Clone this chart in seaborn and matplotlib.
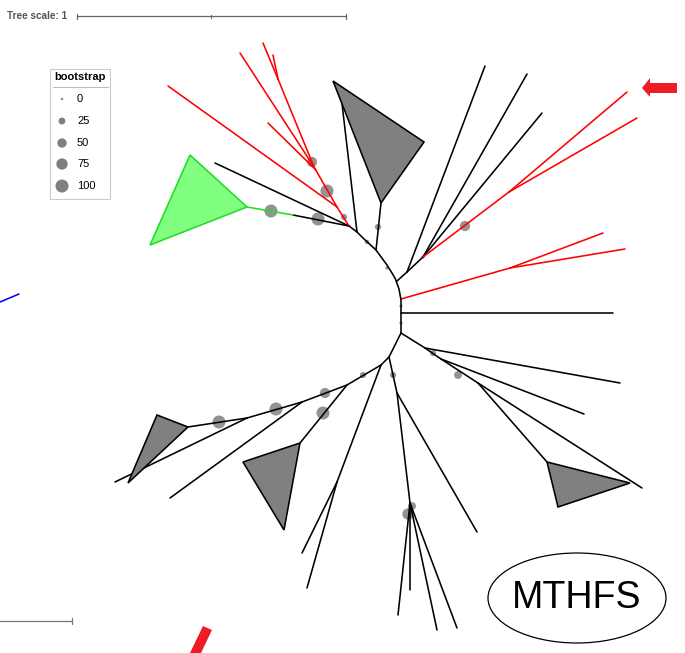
import numpy as np
import pandas as pd
import seaborn as sns
import matplotlib.pyplot as plt
from matplotlib.collections import LineCollection
from matplotlib.patches import Polygon, Ellipse

# node positions (pixel space of the reference)
arc_x = [349, 357, 363, 376, 387, 395, 399, 401, 401]
arc_y = [226, 232, 238, 250, 265, 278, 289, 300, 333]

# branches: x0, y0, x1, y1, colour
branches = [
    # upper left clade
    (215, 163, 349, 226, 'black'),
    (293, 215, 349, 226, 'black'),
    (247, 207, 293, 215, '#22dd22'),
    (168, 86, 337, 207, 'red'),
    (240, 53, 314, 167, 'red'),
    (268, 123, 316, 170, 'red'),
    (263, 43, 278, 79, 'red'),
    (273, 55, 278, 79, 'red'),
    (278, 79, 314, 167, 'red'),
    (314, 167, 337, 207, 'red'),
    (337, 207, 349, 226, 'red'),
    (341, 95, 357, 232, 'black'),
    (381, 203, 376, 250, 'black'),
    # upper right clade
    (397, 281, 407, 272, 'black'),
    (407, 272, 485, 66, 'black'),
    (407, 272, 423, 257, 'black'),
    (423, 257, 527, 74, 'black'),
    (423, 257, 542, 113, 'black'),
    (423, 257, 509, 192, 'red'),
    (509, 192, 627, 92, 'red'),
    (509, 192, 637, 118, 'red'),
    (401, 299, 510, 268, 'red'),
    (510, 268, 603, 233, 'red'),
    (510, 268, 625, 249, 'red'),
    (401, 313, 613, 313, 'black'),
    # right clade
    (401, 333, 425, 348, 'black'),
    (425, 348, 620, 383, 'black'),
    (425, 348, 441, 359, 'black'),
    (441, 359, 584, 414, 'black'),
    (441, 359, 478, 383, 'black'),
    (478, 383, 642, 488, 'black'),
    (478, 383, 547, 462, 'black'),
    # lower clade
    (401, 333, 389, 357, 'black'),
    (389, 357, 381, 365, 'black'),
    (381, 365, 337, 482, 'black'),
    (337, 482, 302, 553, 'black'),
    (337, 482, 307, 588, 'black'),
    (381, 365, 347, 385, 'black'),
    (347, 385, 302, 402, 'black'),
    (302, 402, 247, 418, 'black'),
    (247, 418, 188, 427, 'black'),
    (347, 385, 300, 443, 'black'),
    (302, 402, 170, 498, 'black'),
    (247, 418, 115, 482, 'black'),
    (389, 357, 397, 393, 'black'),
    (397, 393, 410, 503, 'black'),
    (397, 393, 477, 532, 'black'),
    (410, 503, 398, 615, 'black'),
    (410, 503, 410, 590, 'black'),
    (410, 503, 437, 630, 'black'),
    (410, 503, 457, 628, 'black'),
    # stray branch at the left edge
    (0, 302, 19, 294, 'blue'),
]

# collapsed clades
triangles = [
    ([333, 424, 381], [81, 142, 203], '#808080', 'black'),
    ([190, 247, 150], [155, 207, 245], '#80ff80', '#22dd22'),
    ([300, 243, 284], [443, 462, 530], '#808080', 'black'),
    ([188, 157, 128], [427, 415, 483], '#808080', 'black'),
    ([547, 630, 558], [462, 483, 507], '#808080', 'black'),
]

# bootstrap support circles
boot_x = [271, 318, 312, 327, 344, 378, 367, 387, 465, 401, 401, 433, 458,
          393, 363, 325, 323, 276, 219, 412, 408, 423]
boot_y = [211, 219, 162, 191, 217, 227, 242, 268, 226, 306, 323, 353, 375,
          375, 375, 393, 413, 409, 422, 506, 514, 257]
boot_v = [100, 100, 60, 100, 20, 20, 8, 3, 60, 3, 3, 20, 35,
          20, 20, 60, 100, 100, 100, 35, 75, 3]

legend_vals = [0, 25, 50, 75, 100]
legend_y = [99, 121, 143, 164, 186]

sns.set_style('white')
plt.rcParams['font.family'] = ['Liberation Sans', 'DejaVu Sans']
plt.rcParams['text.color'] = 'black'

fig = plt.figure(figsize=(6.85, 6.53), dpi=100)
ax = fig.add_axes([0, 0, 1, 1])
ax.set_xlim(0, 685)
ax.set_ylim(653, 0)
ax.axis('off')

size_range = (3, 88)

sns.scatterplot(x=boot_x, y=boot_y, size=boot_v, sizes=size_range,
                size_norm=(0, 100), color='#808080', alpha=0.85,
                linewidth=0, legend=False, ax=ax, zorder=2)

segs = [[(b[0], b[1]), (b[2], b[3])] for b in branches]
cols = [b[4] for b in branches]
ax.add_collection(LineCollection(segs, colors=cols, linewidths=1.15,
                                 zorder=3, capstyle='round'))
ax.plot(arc_x, arc_y, color='black', lw=1.15, zorder=3)

for tx, ty, fc, ec in triangles:
    ax.add_patch(Polygon(np.column_stack([tx, ty]), closed=True, fc=fc,
                         ec=ec, lw=1.15, zorder=3))

# tree scale
ax.text(7, 16, 'Tree scale: 1', fontsize=7.2, fontweight='bold',
        color='#555555', va='center', ha='left')
ax.plot([77, 346], [16, 16], color='#666666', lw=0.9)
for xt in [77, 211, 346]:
    h = 2.5 if xt != 211 else 1.5
    ax.plot([xt, xt], [16 - h, 16 + h], color='#666666', lw=0.9)
ax.plot([0, 72], [621, 621], color='#777777', lw=0.9)
ax.plot([72, 72], [618, 624], color='#777777', lw=0.9)

# legend box
ax.add_patch(plt.Rectangle((50, 69), 60, 130, fc='white', ec='#cccccc',
                           lw=0.8, zorder=4))
ax.text(80, 77, 'bootstrap', fontsize=8, fontweight='bold', ha='center',
        va='center', zorder=5)
ax.plot([53, 108], [87, 87], color='#bbbbbb', lw=0.8, zorder=5)
sns.scatterplot(x=[62] * 5, y=legend_y, size=legend_vals, sizes=size_range,
                size_norm=(0, 100), color='#808080', linewidth=0,
                legend=False, ax=ax, zorder=6)
for v, ly in zip(legend_vals, legend_y):
    ax.text(77, ly, str(v), fontsize=8, va='center', ha='left', zorder=6)

# arrows
ax.add_patch(Polygon([(642, 88), (650, 78), (650, 83), (677, 83), (677, 93),
                      (650, 93), (650, 97)], closed=True, fc='#ee1c25',
                     ec='none', zorder=5))
ax.add_patch(Polygon([(203, 626), (212, 630), (201, 653), (190, 653)],
                     closed=True, fc='#ee1c25', ec='none', zorder=5))

# gene label
ax.add_patch(Ellipse((577, 598), 178, 90, fc='white', ec='black', lw=0.9))
ax.text(577, 598, 'MTHFS', fontsize=27, color='black',
        ha='center', va='center')

fig.savefig('out.png', dpi=100)
